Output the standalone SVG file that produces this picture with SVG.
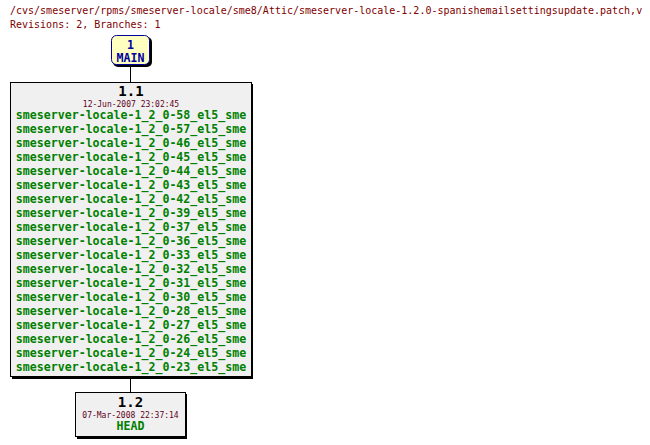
<svg xmlns="http://www.w3.org/2000/svg" width="650" height="445" viewBox="0 0 650 445">
<style>
.hdr{font-family:"DejaVu Sans Mono","Liberation Mono",monospace;font-size:10px;fill:#800000}
.rev{font-family:"DejaVu Sans Mono","Liberation Mono",monospace;font-size:14px;font-weight:bold;fill:#000000;text-anchor:middle}
.date{font-family:"DejaVu Sans Mono","Liberation Mono",monospace;font-size:8px;fill:#600020;text-anchor:middle}
.tag{font-family:"DejaVu Sans Mono","Liberation Mono",monospace;font-size:11.6px;font-weight:bold;fill:#008000;text-anchor:middle}
.br{font-family:"DejaVu Sans Mono","Liberation Mono",monospace;font-size:11.6px;font-weight:bold;fill:#0000a0;text-anchor:middle}
.box{fill:#f0f0f0;stroke:#000000;stroke-width:1}
.shadow{fill:#000000}
.conn{stroke:#000000;stroke-width:1;fill:none}
</style>
<g id="header">
<text class="hdr" x="10" y="14">/cvs/smeserver/rpms/smeserver-locale/sme8/Attic/smeserver-locale-1.2.0-spanishemailsettingsupdate.patch,v</text>
<text class="hdr" x="10" y="28">Revisions: 2, Branches: 1</text>
</g>
<g id="connectors">
<line class="conn" x1="130.5" y1="66" x2="130.5" y2="82"/>
<line class="conn" x1="130.5" y1="378" x2="130.5" y2="392"/>
</g>
<g id="branch-main">
<rect x="113" y="37" width="39" height="30" rx="5" class="shadow"/>
<rect x="111.5" y="35.5" width="38" height="29" rx="5" fill="#ffffc0" stroke="#0000a0" stroke-width="1"/>
<text class="br" x="130.5" y="49">1</text>
<text class="br" x="130.5" y="62">MAIN</text>
</g>
<g id="rev-1.1">
<rect x="12" y="84" width="241" height="295" class="shadow"/>
<rect x="10.5" y="82.5" width="241" height="294" class="box"/>
<text class="rev" x="131" y="96">1.1</text>
<text class="date" x="131" y="106.5">12-Jun-2007 23:02:45</text>
<text class="tag" x="131" y="119">smeserver-locale-1_2_0-58_el5_sme</text>
<text class="tag" x="131" y="133">smeserver-locale-1_2_0-57_el5_sme</text>
<text class="tag" x="131" y="147">smeserver-locale-1_2_0-46_el5_sme</text>
<text class="tag" x="131" y="161">smeserver-locale-1_2_0-45_el5_sme</text>
<text class="tag" x="131" y="175">smeserver-locale-1_2_0-44_el5_sme</text>
<text class="tag" x="131" y="189">smeserver-locale-1_2_0-43_el5_sme</text>
<text class="tag" x="131" y="203">smeserver-locale-1_2_0-42_el5_sme</text>
<text class="tag" x="131" y="217">smeserver-locale-1_2_0-39_el5_sme</text>
<text class="tag" x="131" y="231">smeserver-locale-1_2_0-37_el5_sme</text>
<text class="tag" x="131" y="245">smeserver-locale-1_2_0-36_el5_sme</text>
<text class="tag" x="131" y="259">smeserver-locale-1_2_0-33_el5_sme</text>
<text class="tag" x="131" y="273">smeserver-locale-1_2_0-32_el5_sme</text>
<text class="tag" x="131" y="287">smeserver-locale-1_2_0-31_el5_sme</text>
<text class="tag" x="131" y="301">smeserver-locale-1_2_0-30_el5_sme</text>
<text class="tag" x="131" y="315">smeserver-locale-1_2_0-28_el5_sme</text>
<text class="tag" x="131" y="329">smeserver-locale-1_2_0-27_el5_sme</text>
<text class="tag" x="131" y="343">smeserver-locale-1_2_0-26_el5_sme</text>
<text class="tag" x="131" y="357">smeserver-locale-1_2_0-24_el5_sme</text>
<text class="tag" x="131" y="371">smeserver-locale-1_2_0-23_el5_sme</text>
</g>
<g id="rev-1.2">
<rect x="77" y="394" width="110" height="45" class="shadow"/>
<rect x="75.5" y="392.5" width="110" height="44" class="box"/>
<text class="rev" x="130.5" y="407">1.2</text>
<text class="date" x="130.5" y="417.5">07-Mar-2008 22:37:14</text>
<text class="tag" x="130.5" y="430">HEAD</text>
</g>
</svg>
